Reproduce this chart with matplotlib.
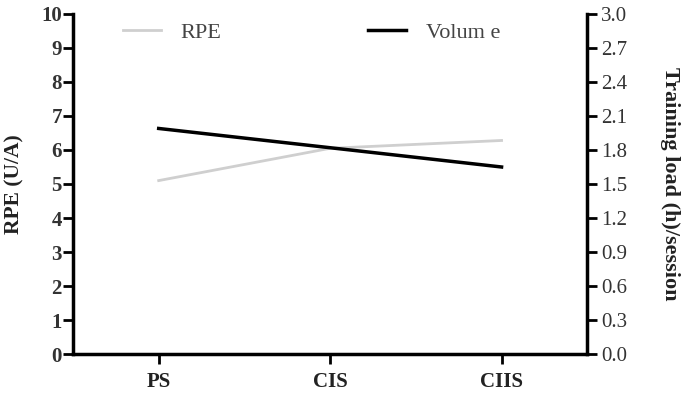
import matplotlib.pyplot as plt
from matplotlib.lines import Line2D

plt.rcParams['font.family'] = ['Liberation Serif', 'DejaVu Serif']

phases = ["PS", "CIS", "CIIS"]
rpe = [5.1, 6.05, 6.28]
volume = [1.99, 1.82, 1.65]

fig = plt.figure(figsize=(6.95, 3.94), dpi=100)
ax = fig.add_axes([0.105, 0.1015, 0.74, 0.863])
ax2 = ax.twinx()

x = range(len(phases))
ax.plot(x, rpe, color="#cfcfcf", linewidth=2)
ax2.plot(x, volume, color="black", linewidth=2.5)

ax.set_xlim(-0.5, 2.5)
ax.set_ylim(0, 10)
ax2.set_ylim(0, 3.0)
ax.set_yticks(range(0, 11))
ax2.set_yticks([i * 0.3 for i in range(11)])
ax2.set_yticklabels(["%.1f" % (i * 0.3) for i in range(11)])
ax.set_xticks(list(x))
ax.set_xticklabels(phases, fontsize=15, fontweight="bold", color="#222222")

for a in (ax, ax2):
    a.spines["top"].set_visible(False)
    for s in ("left", "right", "bottom"):
        a.spines[s].set_linewidth(2.5)
    a.tick_params(width=2, length=7, direction="out")
ax.spines["right"].set_visible(False)
ax2.spines["left"].set_visible(False)
ax2.spines["bottom"].set_visible(False)

for lab in ax.get_yticklabels():
    lab.set_fontsize(15)
    lab.set_fontweight("bold")
    lab.set_color("#333333")
for lab in ax2.get_yticklabels():
    lab.set_fontsize(15)
    lab.set_color("#333333")
ax.tick_params(axis="x", pad=6)
ax.tick_params(axis="y", pad=1)
ax2.tick_params(axis="y", pad=3)

ax.set_ylabel("RPE (U/A)", fontsize=15.5, fontweight="bold", labelpad=12,
              color="#222222")
ax2.set_ylabel("Training load (h)/session", fontsize=16, fontweight="bold",
               rotation=270, labelpad=38, color="#222222")

handles = [Line2D([], [], color="#cfcfcf", linewidth=2),
           Line2D([], [], color="black", linewidth=2.5)]
ax.legend(handles, ["RPE", "Volum e"], loc="upper left", ncol=2,
          frameon=False, fontsize=16, handlelength=1.7, handletextpad=0.9,
          columnspacing=6.6, bbox_to_anchor=(0.058, 1.035),
          labelcolor="#444444")

fig.savefig("out.png", dpi=100)
